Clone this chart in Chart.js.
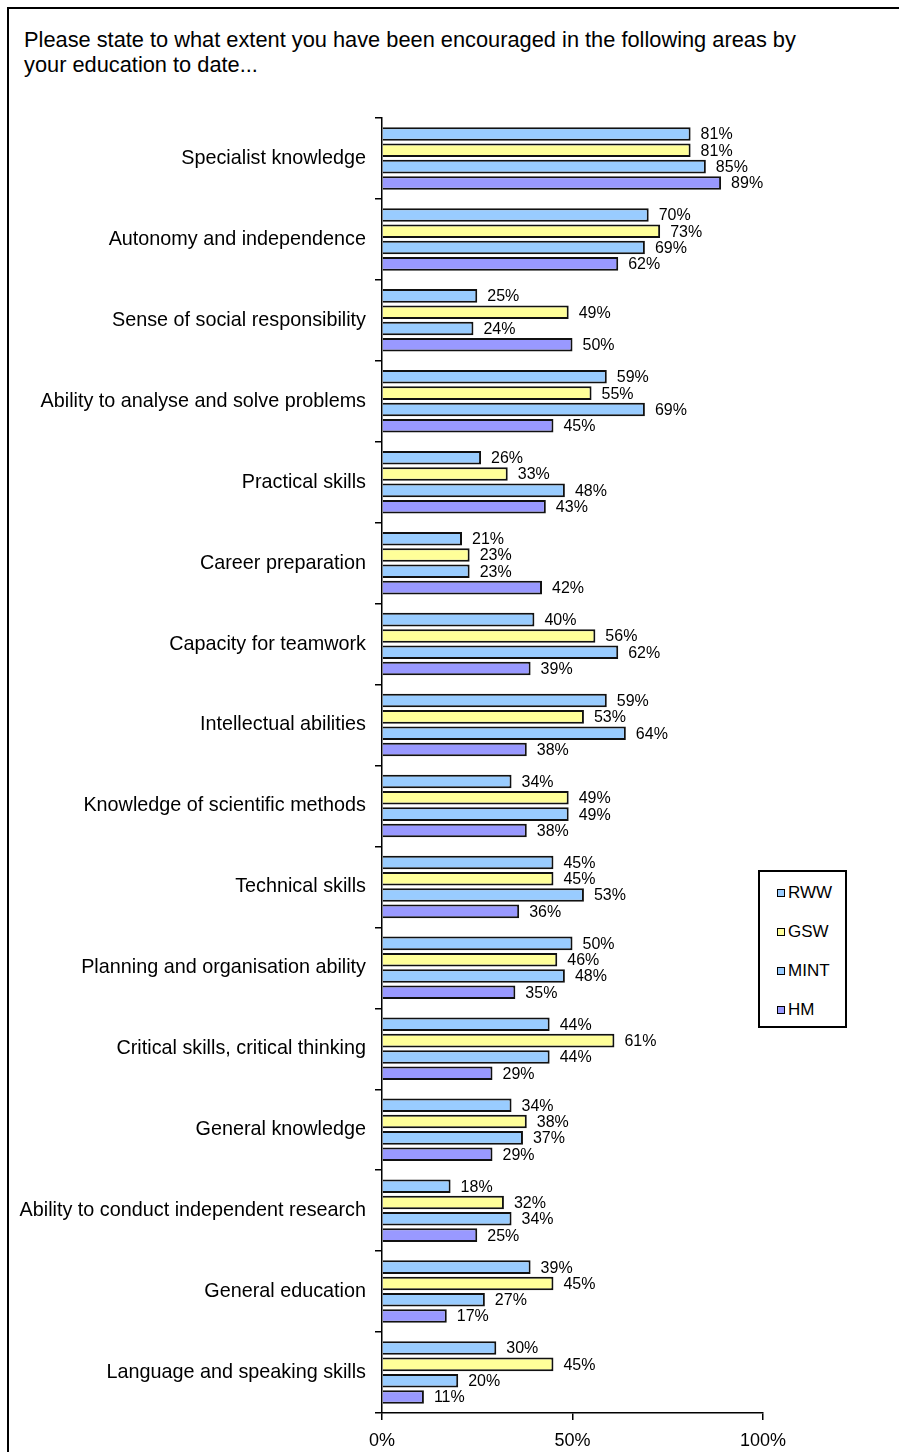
<!DOCTYPE html>
<html>
<head>
<meta charset="utf-8">
<script src="https://cdn.jsdelivr.net/npm/chart.js@4"></script>
<style>
  html, body { margin: 0; padding: 0; background: #fff; overflow: hidden; }
  body { width: 899px; height: 1452px; position: relative; font-family: "Liberation Sans", Arial, sans-serif; }
  #frame { position: absolute; left: 7px; top: 7px; width: 900px; height: 1500px; border: 2px solid #000; box-sizing: border-box; }
  #title { position: absolute; left: 24px; top: 27px; font-size: 21.8px; line-height: 25px; color: #000; white-space: nowrap; }
  #wrap { position: absolute; left: 0; top: 0; width: 899px; height: 1452px; }
  #legend { position: absolute; left: 758px; top: 870px; width: 89px; height: 158px; border: 2px solid #000; box-sizing: border-box; background: #fff; }
  .item { position: absolute; left: 17px; font-size: 17px; line-height: 18px; color: #000; }
  .item span { display: inline-block; width: 6px; height: 6px; border: 1.5px solid #000; margin-right: 3px; vertical-align: 1px; }
</style>
</head>
<body>
<div id="frame"></div>
<div id="title">Please state to what extent you have been encouraged in the following areas by<br>your education to date...</div>
<div id="wrap"><canvas id="chart" width="899" height="1452"></canvas></div>
<div id="legend"></div>
<script>
const categorias = [
    'Specialist knowledge',
    'Autonomy and independence',
    'Sense of social responsibility',
    'Ability to analyse and solve problems',
    'Practical skills',
    'Career preparation',
    'Capacity for teamwork',
    'Intellectual abilities',
    'Knowledge of scientific methods',
    'Technical skills',
    'Planning and organisation ability',
    'Critical skills, critical thinking',
    'General knowledge',
    'Ability to conduct independent research',
    'General education',
    'Language and speaking skills'
];
const rww  = [81, 70, 25, 59, 26, 21, 40, 59, 34, 45, 50, 44, 34, 18, 39, 30];
const gsw  = [81, 73, 49, 55, 33, 23, 56, 53, 49, 45, 46, 61, 38, 32, 45, 45];
const mint = [85, 69, 24, 69, 48, 23, 62, 64, 49, 53, 48, 44, 37, 34, 27, 20];
const hm   = [89, 62, 50, 45, 43, 42, 39, 38, 38, 36, 35, 29, 29, 25, 17, 11];
const series = ['RWW', 'GSW', 'MINT', 'HM'];
const colores = ['#99CCFF', '#FFFF99', '#99CCFF', '#9999FF'];
const ticksX = [0, 50, 100];

const fuente = '"Liberation Sans", Arial, sans-serif';

// etiquetas de valor al final de cada barra
const etiquetas = {
    id: 'etiquetas',
    afterDatasetsDraw(chart) {
        const ctx = chart.ctx;
        ctx.save();
        ctx.font = '16px ' + fuente;
        ctx.fillStyle = '#000';
        ctx.textBaseline = 'middle';
        ctx.textAlign = 'left';
        chart.data.datasets.forEach((ds, i) => {
            chart.getDatasetMeta(i).data.forEach((bar, j) => {
                ctx.fillText(ds.data[j] + '%', bar.x + 10, bar.y + 1);
            });
        });
        ctx.restore();
    }
};

new Chart(document.getElementById('chart').getContext('2d'), {
    type: 'bar',
    data: {
        labels: categorias,
        datasets: [rww, gsw, mint, hm].map((d, i) => ({
            label: series[i],
            data: d,
            backgroundColor: colores[i],
            borderColor: '#111',
            borderWidth: 2,
            categoryPercentage: 0.806,
            barPercentage: 0.83
        }))
    },
    options: {
        indexAxis: 'y',
        responsive: false,
        animation: false,
        layout: { padding: { top: 118, right: 136, left: 0, bottom: 0 } },
        plugins: { legend: { display: false }, tooltip: { enabled: false } },
        scales: {
            x: {
                min: 0, max: 100,
                afterBuildTicks: scale => { scale.ticks = ticksX.map(v => ({ value: v })); },
                afterFit: scale => { scale.height = 39; },
                border: { color: '#000', width: 1.5 },
                grid: { drawOnChartArea: false, tickLength: 7, color: '#000', lineWidth: 1.5 },
                ticks: { padding: 10, color: '#000', font: { family: fuente, size: 18 }, callback: v => v + '%' }
            },
            y: {
                afterFit: scale => { scale.width = 382; },
                border: { color: '#000', width: 1.5 },
                grid: { offset: true, drawOnChartArea: false, tickLength: 7, color: '#000', lineWidth: 1.5 },
                ticks: { padding: 9, color: '#000', font: { family: fuente, size: 19.8 } }
            }
        }
    },
    plugins: [etiquetas]
});

// leyenda
const leyenda = document.getElementById('legend');
series.forEach((s, i) => {
    const div = document.createElement('div');
    div.className = 'item';
    div.style.top = (12 + i * 39) + 'px';
    div.innerHTML = '<span style="background:' + colores[i] + '"></span>' + s;
    leyenda.appendChild(div);
});
</script>
</body>
</html>
